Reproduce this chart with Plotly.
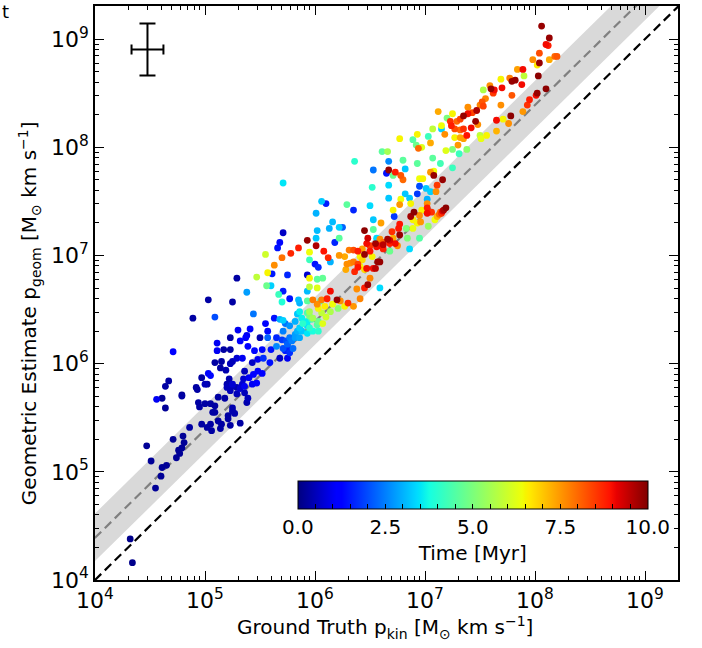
import numpy as np
import plotly.graph_objects as go

# ---- data (log10 of momentum values, Msun km/s) ----
log_p_kin = [
    4.34, 4.32, 4.55, 4.60, 4.61, 4.65, 4.51, 4.74, 4.77, 4.76,
    4.79, 4.81, 4.80, 4.71, 4.47, 4.86, 4.97, 5.02, 5.05, 5.06,
    5.14, 5.21, 5.23, 5.32, 5.25, 5.27, 5.25, 5.09, 5.12, 5.15,
    4.94, 5.00, 5.05, 5.09, 5.12, 5.18, 4.95, 4.64, 4.56, 4.61,
    4.79, 4.93, 5.02, 4.64, 4.67, 5.20, 5.23, 5.25, 5.29, 5.32,
    5.36, 5.39, 5.38, 5.36, 5.29, 5.21, 5.07, 5.20, 5.25, 5.34,
    5.43, 5.47, 5.22, 5.35, 5.40, 5.44, 5.48, 5.52, 5.03, 5.05,
    4.97, 5.14, 5.19, 5.23, 5.15, 5.09, 5.29, 5.25, 5.34, 5.17,
    5.23, 5.11, 4.71, 4.92, 5.00, 4.79, 5.38, 5.37, 5.23, 5.11,
    5.30, 5.41, 5.50, 5.55, 5.52, 5.53, 5.60, 5.57, 5.65, 5.65,
    5.70, 5.74, 5.77, 5.82, 5.75, 5.73, 5.77, 5.68, 5.75, 4.89,
    5.09, 5.03, 5.25, 5.44, 5.29, 5.38, 5.71, 5.39, 5.45, 5.32,
    5.43, 5.36, 5.48, 5.59, 5.57, 5.68, 5.71, 5.84, 5.89, 5.93,
    5.97, 6.02, 5.84, 5.88, 5.93, 5.98, 6.03, 5.85, 5.86, 5.93,
    5.98, 5.70, 5.77, 5.93, 5.67, 5.56, 5.60, 5.95, 6.02, 5.95,
    6.02, 5.93, 5.75, 5.57, 5.61, 5.63, 5.47, 5.55, 5.70, 5.78,
    5.95, 5.95, 6.00, 6.03, 5.71, 5.68, 5.66, 5.71, 5.85, 5.93,
    6.01, 6.01, 6.02, 6.01, 6.06, 6.10, 6.13, 6.16, 6.22, 6.18,
    6.22, 6.08, 6.12, 6.22, 6.14, 6.07, 5.88, 5.93, 5.95, 5.98,
    6.03, 6.07, 5.93, 5.86, 5.95, 5.82, 5.86, 5.79, 5.75, 5.71,
    5.80, 5.63, 5.71, 6.31, 6.35, 6.39, 6.45, 6.47, 6.55, 6.58,
    6.62, 6.66, 6.77, 6.41, 6.43, 6.52, 6.27, 6.32, 6.28, 6.36,
    6.39, 6.47, 6.55, 6.59, 6.14, 6.20, 6.06, 6.11, 6.02, 6.09,
    6.16, 6.23, 6.27, 6.30, 6.35, 6.41, 6.45, 6.48, 6.50, 6.38,
    6.03, 5.95, 6.21, 6.59, 6.36, 6.61, 6.66, 6.53, 6.67, 6.67,
    6.65, 6.73, 6.71, 6.78, 6.80, 6.80, 6.82, 6.77, 6.89, 6.92,
    6.93, 6.94, 6.97, 7.03, 7.05, 7.07, 6.93, 7.07, 7.14, 7.19,
    7.25, 7.12, 7.20, 7.25, 7.15, 7.15, 7.18, 7.23, 7.29, 7.32,
    7.35, 7.39, 7.43, 7.47, 7.39, 7.52, 7.53, 7.55, 7.24, 7.27,
    7.32, 7.35, 7.27, 7.32, 7.38, 7.42, 7.46, 7.48, 7.31, 7.38,
    7.50, 7.51, 7.25, 7.05, 7.08, 7.08, 7.16, 6.95, 6.98, 6.95,
    7.11, 7.10, 7.01, 7.05, 6.93, 7.02, 7.02, 6.97, 7.02, 7.06,
    7.02, 7.19, 7.17, 7.14, 7.11, 7.09, 6.90, 6.87, 6.89, 6.95,
    6.93, 6.96, 7.03, 6.86, 6.87, 6.82, 6.78, 6.77, 6.71, 6.72,
    6.76, 6.77, 6.83, 6.89, 6.95, 6.67, 6.67, 6.52, 6.50, 6.29,
    6.35, 6.53, 6.60, 6.25, 6.53, 6.48, 6.50, 6.56, 6.59, 6.62,
    6.68, 6.70, 6.71, 6.68, 6.73, 6.75, 6.56, 6.84, 6.86, 6.43,
    6.35, 6.39, 6.45, 6.50, 6.41, 6.45, 6.53, 6.57, 6.68, 6.29,
    6.62, 7.15, 7.13, 7.16, 8.06, 8.13, 8.10, 8.12, 8.04, 7.98,
    8.04, 8.13, 8.18, 8.20, 8.02, 8.03, 7.89, 7.84, 7.90, 7.77,
    7.79, 7.82, 7.88, 7.69, 7.70, 7.79, 7.59, 7.63, 7.60, 7.62,
    7.53, 7.50, 7.69, 7.35, 7.30, 7.56, 7.65, 7.65, 7.71, 7.76,
    7.78, 7.89, 7.93, 7.95, 8.01, 8.02, 8.10, 6.06, 6.10, 6.14,
    6.05, 5.82, 5.77, 5.73, 5.86,
]
log_p_geom = [
    4.16, 4.38, 4.85, 4.96, 5.04, 5.06, 5.10, 5.13, 5.17, 5.20,
    5.22, 5.27, 5.33, 5.30, 5.24, 5.41, 5.44, 5.41, 5.44, 5.38,
    5.40, 5.49, 5.43, 5.45, 5.56, 5.54, 5.59, 5.55, 5.47, 5.44,
    5.64, 5.63, 5.63, 5.61, 5.69, 5.68, 5.60, 5.59, 5.67, 5.68,
    5.70, 5.76, 5.81, 5.79, 5.84, 5.78, 5.75, 5.81, 5.72, 5.77,
    5.79, 5.68, 5.64, 5.73, 5.78, 5.52, 5.55, 5.81, 5.79, 5.81,
    5.81, 5.82, 5.86, 5.86, 5.87, 5.90, 5.93, 5.91, 5.91, 5.89,
    5.87, 5.96, 5.94, 6.00, 6.02, 6.01, 6.05, 6.02, 6.05, 6.13,
    6.13, 6.12, 6.11, 5.78, 5.81, 5.71, 6.26, 6.24, 6.24, 6.19,
    6.31, 6.32, 6.24, 6.37, 6.13, 6.05, 6.13, 6.24, 6.16, 6.24,
    6.22, 6.21, 6.24, 6.24, 6.14, 6.12, 6.10, 6.05, 6.05, 6.42,
    6.43, 6.59, 6.57, 6.46, 6.79, 6.66, 6.67, 6.16, 6.12, 6.21,
    6.01, 5.93, 6.04, 6.01, 6.30, 6.41, 6.40, 6.46, 6.37, 6.39,
    6.41, 6.36, 6.30, 6.30, 6.28, 6.30, 6.30, 6.59, 6.56, 6.58,
    6.59, 6.57, 6.60, 6.67, 6.64, 6.72, 6.72, 6.71, 6.70, 6.79,
    6.78, 6.82, 6.82, 6.84, 6.83, 6.91, 6.80, 7.01, 6.98, 7.02,
    7.03, 6.96, 6.92, 6.89, 7.21, 7.12, 7.07, 7.67, 7.07, 7.14,
    7.09, 7.16, 7.23, 7.39, 7.50, 7.48, 7.25, 7.31, 7.26, 7.12,
    7.16, 7.04, 6.98, 7.00, 6.94, 6.79, 6.42, 6.47, 6.44, 6.42,
    6.39, 6.37, 6.35, 6.33, 6.33, 6.27, 6.24, 6.21, 6.18, 6.14,
    6.14, 6.42, 6.30, 7.05, 7.05, 7.04, 7.23, 7.11, 7.11, 7.09,
    7.12, 7.15, 7.29, 6.99, 6.96, 6.99, 6.99, 6.93, 6.87, 6.85,
    6.89, 6.88, 6.88, 6.94, 6.67, 6.59, 6.59, 6.60, 6.55, 6.53,
    6.55, 6.58, 6.53, 6.56, 6.53, 6.60, 6.70, 6.73, 6.79, 6.69,
    6.51, 6.48, 6.51, 6.70, 7.87, 7.96, 7.96, 7.79, 7.87, 7.79,
    7.76, 7.77, 7.74, 7.74, 7.70, 7.88, 7.80, 8.08, 8.07, 8.02,
    8.12, 7.99, 8.00, 8.10, 8.04, 8.17, 7.85, 7.90, 7.85, 7.97,
    7.98, 8.33, 8.27, 8.31, 8.20, 8.17, 8.12, 8.24, 8.24, 8.26,
    8.29, 8.31, 8.32, 8.34, 8.37, 8.42, 8.38, 8.45, 8.20, 8.17,
    8.16, 8.17, 8.09, 8.09, 8.11, 8.18, 8.24, 8.21, 7.94, 7.98,
    8.11, 8.08, 7.81, 7.77, 7.78, 7.74, 7.70, 7.71, 7.71, 7.64,
    7.65, 7.59, 7.62, 7.59, 7.57, 7.52, 7.48, 7.42, 7.44, 7.40,
    7.39, 7.44, 7.42, 7.40, 7.36, 7.33, 7.40, 7.36, 7.33, 7.37,
    7.30, 7.31, 7.27, 7.53, 7.48, 7.57, 7.52, 7.47, 7.42, 7.36,
    7.25, 7.19, 7.25, 7.25, 7.16, 7.65, 7.53, 7.63, 7.46, 7.47,
    7.42, 7.33, 7.30, 7.26, 7.24, 7.16, 7.09, 7.08, 7.15, 7.10,
    7.14, 7.22, 7.16, 7.11, 7.11, 7.09, 7.16, 7.16, 7.06, 7.06,
    6.94, 6.92, 7.01, 7.04, 6.90, 6.87, 6.88, 6.94, 7.04, 6.92,
    7.06, 7.39, 7.38, 7.41, 9.12, 9.01, 8.95, 8.94, 8.87, 8.81,
    8.78, 8.81, 8.84, 8.84, 8.76, 8.66, 8.72, 8.72, 8.66, 8.64,
    8.61, 8.62, 8.58, 8.63, 8.55, 8.48, 8.57, 8.53, 8.54, 8.50,
    8.53, 8.39, 8.39, 8.08, 8.02, 8.11, 8.25, 8.15, 8.26, 8.22,
    8.29, 8.33, 8.39, 8.44, 8.48, 8.50, 8.54, 6.47, 6.43, 6.48,
    6.58, 6.39, 6.35, 6.37, 6.48,
]
time_myr = [
    0.1, 0.1, 0.2, 0.2, 0.2, 0.2, 0.2, 0.2, 0.2, 0.2,
    0.2, 0.2, 0.2, 0.2, 0.2, 0.3, 0.3, 0.3, 0.3, 0.3,
    0.3, 0.3, 0.3, 0.3, 0.4, 0.4, 0.4, 0.3, 0.3, 0.3,
    0.3, 0.3, 0.3, 0.3, 0.3, 0.3, 0.3, 0.2, 1.0, 0.2,
    0.3, 0.3, 0.3, 0.3, 0.3, 0.5, 0.5, 0.7, 0.5, 0.7,
    1.0, 0.5, 0.4, 0.5, 0.4, 0.3, 0.3, 0.4, 0.5, 0.7,
    1.0, 1.1, 0.4, 0.7, 1.0, 1.1, 1.2, 1.2, 1.1, 1.3,
    0.3, 0.3, 0.4, 0.5, 0.3, 0.3, 0.7, 0.5, 1.0, 0.3,
    0.3, 1.0, 1.2, 0.3, 0.5, 0.2, 1.0, 1.1, 0.3, 1.0,
    1.0, 1.2, 0.4, 1.2, 1.3, 1.7, 1.4, 2.2, 2.6, 1.6,
    1.8, 2.0, 2.4, 2.8, 1.6, 1.5, 1.7, 0.6, 1.0, 0.3,
    2.0, 0.3, 0.3, 2.4, 0.3, 2.8, 1.5, 1.2, 1.3, 1.1,
    0.6, 0.5, 1.0, 1.4, 1.3, 3.0, 3.3, 3.2, 4.0, 3.6,
    4.2, 4.5, 3.0, 3.2, 3.5, 3.8, 4.0, 3.1, 3.0, 4.6,
    7.8, 3.9, 1.4, 3.1, 4.2, 4.8, 3.3, 5.8, 6.2, 6.5,
    4.6, 0.7, 1.6, 6.5, 1.5, 7.6, 5.8, 6.0, 7.9, 8.7,
    6.4, 4.2, 1.4, 1.6, 0.6, 1.3, 1.4, 3.5, 8.8, 9.8,
    9.6, 3.2, 3.1, 3.0, 3.2, 1.5, 3.0, 3.1, 3.3, 1.6,
    4.6, 8.9, 8.7, 7.5, 3.0, 4.7, 3.6, 4.4, 5.0, 5.5,
    4.8, 6.2, 3.4, 3.3, 4.0, 2.8, 2.9, 2.5, 2.2, 2.0,
    2.3, 1.4, 2.5, 7.8, 8.3, 8.8, 9.9, 9.0, 9.7, 8.9,
    8.0, 9.7, 8.9, 6.5, 6.8, 6.5, 7.3, 7.6, 7.3, 8.7,
    8.9, 9.0, 9.5, 9.8, 9.0, 9.8, 7.8, 8.8, 7.6, 6.6,
    6.4, 7.6, 6.5, 8.6, 7.5, 7.7, 8.8, 9.7, 7.7, 7.6,
    6.5, 5.5, 5.2, 3.4, 4.0, 4.6, 5.5, 2.4, 2.6, 9.8,
    1.4, 8.8, 4.8, 8.2, 8.0, 4.6, 3.2, 6.5, 4.5, 4.8,
    6.5, 8.0, 6.2, 4.2, 7.3, 5.8, 4.6, 4.6, 4.3, 6.2,
    5.0, 7.3, 5.0, 6.5, 6.4, 3.3, 7.6, 8.6, 8.0, 8.4,
    9.8, 9.0, 8.4, 9.6, 7.6, 8.2, 8.4, 7.7, 8.8, 8.3,
    8.0, 8.6, 6.5, 7.3, 8.9, 9.0, 9.8, 7.6, 4.2, 5.2,
    5.8, 6.3, 4.2, 7.5, 6.4, 9.8, 9.8, 6.4, 6.5, 2.0,
    8.5, 7.6, 3.2, 3.3, 1.8, 3.0, 7.6, 6.5, 8.8, 8.6,
    9.0, 9.9, 9.6, 8.0, 7.2, 6.4, 9.9, 9.7, 6.5, 7.6,
    6.5, 7.5, 5.3, 3.2, 6.5, 3.2, 6.4, 7.5, 6.5, 1.8,
    8.9, 9.8, 5.0, 6.3, 4.5, 3.4, 3.2, 4.0, 3.4, 4.6,
    1.6, 3.2, 7.4, 2.2, 4.6, 9.3, 8.5, 9.0, 7.6, 9.5,
    9.2, 8.6, 7.3, 8.8, 9.0, 7.6, 3.4, 5.0, 3.4, 7.4,
    7.8, 8.4, 9.8, 8.9, 6.5, 6.8, 9.0, 9.8, 4.8, 7.6,
    8.8, 8.6, 8.0, 9.2, 9.8, 9.8, 9.0, 8.8, 8.3, 7.6,
    9.8, 7.3, 8.0, 8.2, 6.6, 9.9, 9.0, 7.4, 5.8, 7.8,
    9.8, 9.8, 9.0, 6.5, 9.0, 8.2, 7.6, 9.0, 9.8, 8.5,
    5.6, 7.7, 7.6, 7.4, 7.5, 6.5, 9.0, 7.2, 6.5, 7.6,
    9.9, 7.5, 8.6, 8.8, 9.0, 9.8, 9.9, 5.8, 6.0, 5.6,
    4.6, 3.0, 2.7, 2.4, 3.6,
]
assert len(log_p_kin) == len(log_p_geom) == len(time_myr)

# relation lines (ratio in dex)
fit_offset_dex = 0.39
band_low_dex = 0.175
band_high_dex = 0.615

# typical error bar
err_center_x = 3.0e4
err_center_y = 8.0e8
err_dex_x = 0.145
err_dex_y = 0.24

axis_decades = [4, 5, 6, 7, 8, 9]
colorbar_major = [0.0, 2.5, 5.0, 7.5, 10.0]

# ---- build ----
FONT = "DejaVu Sans"
kin = 10 ** np.array(log_p_kin)
geom = 10 ** np.array(log_p_geom)
tt = np.array(time_myr)
order = np.argsort(tt, kind="stable")

jet = [
    [0.0, "rgb(0,0,128)"], [0.11, "rgb(0,0,255)"], [0.125, "rgb(0,0,255)"],
    [0.34, "rgb(0,219,255)"], [0.35, "rgb(0,230,247)"], [0.375, "rgb(21,255,226)"],
    [0.64, "rgb(239,255,8)"], [0.65, "rgb(247,245,0)"], [0.66, "rgb(255,236,0)"],
    [0.89, "rgb(255,19,0)"], [0.91, "rgb(232,0,0)"], [1.0, "rgb(128,0,0)"],
]

fig = go.Figure()
lx = np.array([1e3, 1e10])
# grey band
fig.add_trace(go.Scatter(
    x=[lx[0], lx[1], lx[1], lx[0]],
    y=[lx[0] * 10**band_low_dex, lx[1] * 10**band_low_dex,
       lx[1] * 10**band_high_dex, lx[0] * 10**band_high_dex],
    fill="toself", fillcolor="#d9d9d9", line=dict(width=0), mode="lines",
    hoverinfo="skip", showlegend=False))
# 1:1 line
fig.add_trace(go.Scatter(x=lx, y=lx, mode="lines",
                         line=dict(color="black", width=2.2, dash="9px,5px"),
                         showlegend=False, hoverinfo="skip"))
# offset line
fig.add_trace(go.Scatter(x=lx, y=lx * 10**fit_offset_dex, mode="lines",
                         line=dict(color="#808080", width=2.2, dash="9px,5px"),
                         showlegend=False, hoverinfo="skip"))

cb_vals = [i * 0.5 for i in range(21)]
fig.add_trace(go.Scatter(
    x=kin[order], y=geom[order], mode="markers",
    marker=dict(size=6.8, color=tt[order], colorscale=jet, cmin=0, cmax=10,
                line=dict(width=0), showscale=True,
                colorbar=dict(
                    orientation="h", x=0.648, xanchor="center",
                    y=(580 - 481) / 576, yanchor="top",
                    len=350, lenmode="pixels", thickness=28, thicknessmode="pixels",
                    outlinecolor="black", outlinewidth=1, xpad=0, ypad=0,
                    ticks="inside", ticklen=5, tickcolor="black", tickwidth=1,
                    tickangle=0,
                    tickvals=cb_vals,
                    ticktext=[(f"{v:.1f}" if (v in colorbar_major) else " ")
                              for v in cb_vals],
                    tickfont=dict(family=FONT, size=20, color="black"),
                    title=dict(text="Time [Myr]", side="bottom",
                               font=dict(family=FONT, size=20, color="black")),
                )),
    showlegend=False))

# error bar cross
fig.add_trace(go.Scatter(
    x=[err_center_x], y=[err_center_y], mode="markers",
    marker=dict(size=1, color="black"),
    error_x=dict(type="data", symmetric=False,
                 array=[err_center_x * (10**err_dex_x - 1)],
                 arrayminus=[err_center_x * (1 - 10**-err_dex_x)],
                 color="black", thickness=2, width=5),
    error_y=dict(type="data", symmetric=False,
                 array=[err_center_y * (10**err_dex_y - 1)],
                 arrayminus=[err_center_y * (1 - 10**-err_dex_y)],
                 color="black", thickness=2, width=8),
    showlegend=False, hoverinfo="skip"))

tickvals = [10.0**d for d in axis_decades]
ticktext = [f"10<sup>{d}</sup>" for d in axis_decades]
minor_vals = [m * 10.0**d for d in range(3, 10) for m in range(2, 10)]

axis_common = dict(
    type="log", tickvals=tickvals, ticktext=ticktext,
    ticks="inside", ticklen=9, tickwidth=1.3, tickcolor="black",
    showline=True, linecolor="black", linewidth=1.5, mirror="ticks",
    showgrid=False, zeroline=False,
    tickfont=dict(family=FONT, size=22, color="black"),
    minor=dict(ticks="inside", ticklen=4.5, tickwidth=1, tickcolor="black",
               tickvals=minor_vals, showgrid=False),
)

fig.update_layout(
    width=702, height=648,
    margin=dict(l=95, r=24, t=4, b=68),
    plot_bgcolor="white", paper_bgcolor="white",
    font=dict(family=FONT, color="black"),
    xaxis=dict(range=[4, 9.3], **axis_common),
    yaxis=dict(range=[4, 9.306], **axis_common),
    annotations=[
        dict(text="Ground Truth p<sub>kin</sub> [M<sub>⊙</sub> km s<sup>−1</sup>]",
             xref="paper", yref="paper", x=0.497, y=-0.083,
             xanchor="center", yanchor="middle", showarrow=False,
             font=dict(family=FONT, size=20, color="black")),
        dict(text="Geometric Estimate p<sub>geom</sub> [M<sub>⊙</sub> km s<sup>−1</sup>]",
             xref="paper", yref="paper", x=-0.113, y=0.465, textangle=-90,
             xanchor="center", yanchor="middle", showarrow=False,
             font=dict(family=FONT, size=20, color="black")),
        dict(text="t", xref="paper", yref="paper", x=-0.163, y=1.012,
             xanchor="left", yanchor="top", showarrow=False,
             font=dict(family=FONT, size=18, color="black")),
    ],
)

fig.write_html("out.html", config={"displayModeBar": False},
               post_script="document.body.style.margin='0';document.body.style.padding='0';")
